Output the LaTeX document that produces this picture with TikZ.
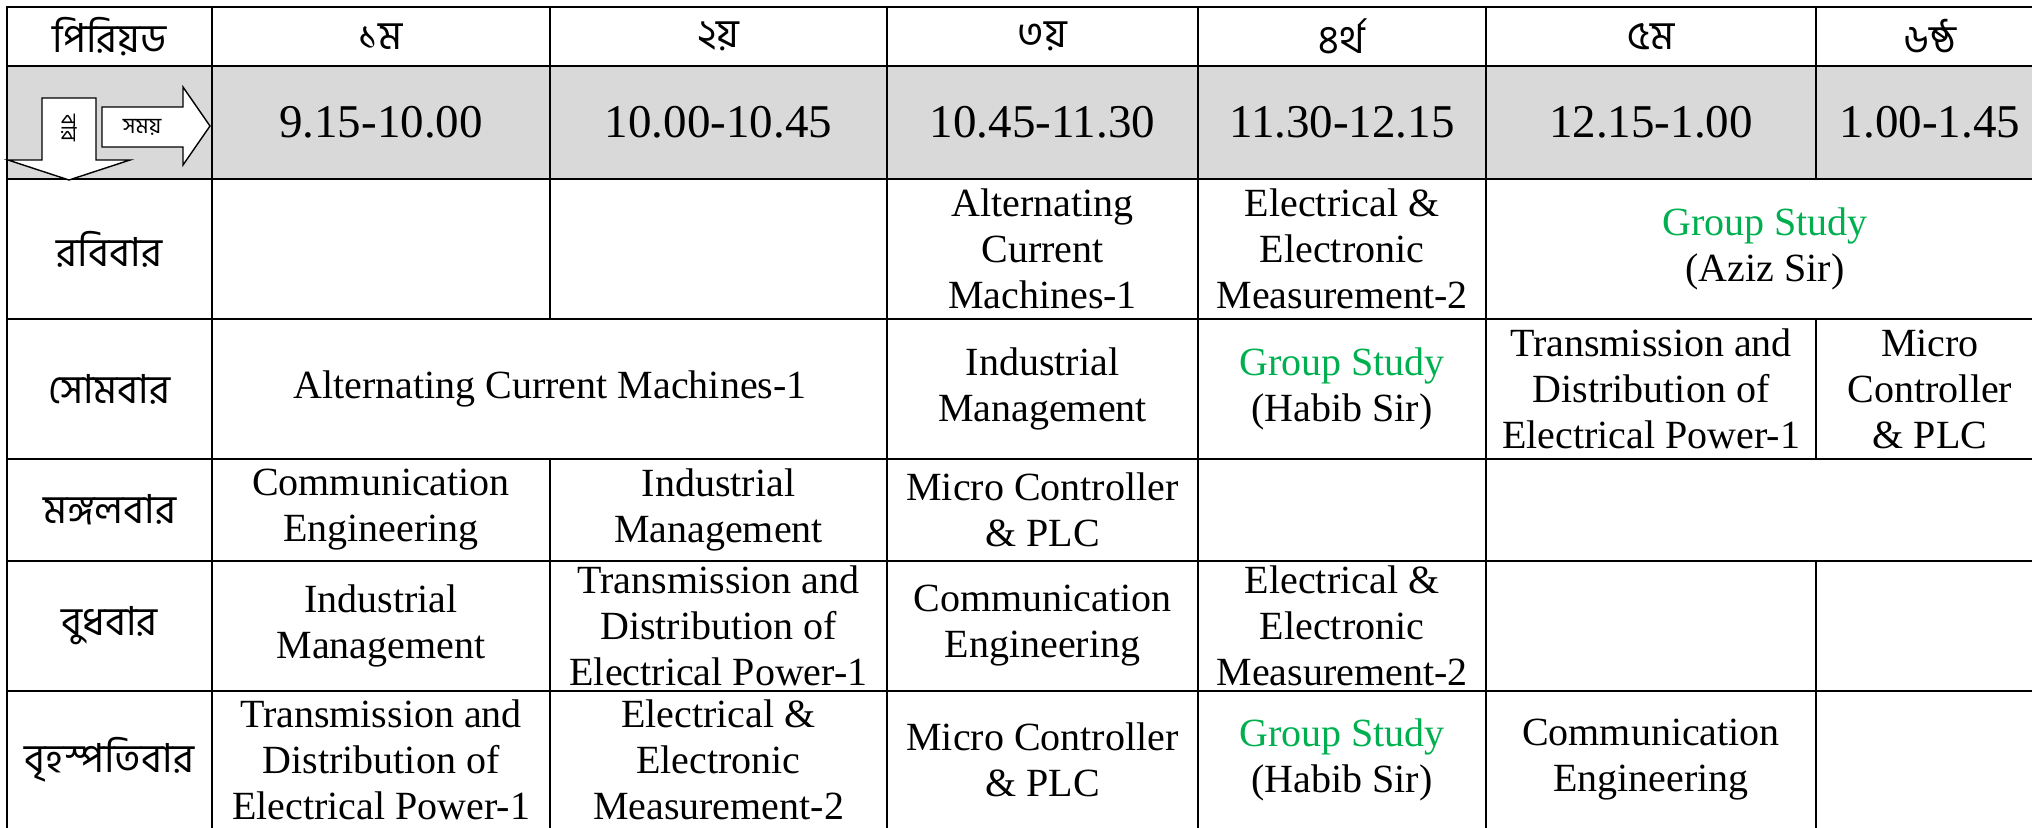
\documentclass[tikz,border=0pt]{standalone}
\usepackage{fontspec}
\setmainfont{Liberation Serif}
\newfontfamily\bnfont[Script=Bengali]{Hind Siliguri}
\definecolor{gsgreen}{RGB}{0,176,80}
\begin{document}
\begin{tikzpicture}[x=0.5pt,y=-0.5pt,
  cell/.style={align=center,inner sep=0pt,font=\fontsize{20}{23}\selectfont},
  timecell/.style={inner sep=0pt,font=\fontsize{23.5}{26}\selectfont},
  bncell/.style={inner sep=0pt,font=\bnfont\fontsize{20}{24}\selectfont},
  grid/.style={line width=1.45pt,line cap=rect},
  arrowbox/.style={draw,line width=0.7pt,fill=white,line join=miter}]

\useasboundingbox (0,0) rectangle (2032,827);
\clip (0,0) rectangle (2032,827);

% grey time row
\fill [black!15] (7,66) rectangle (2044,179) ;

% horizontal rules
\foreach \y in {7,66,179,319,459,561,691,829}
  \draw [grid] (7,\y) -- (2044,\y) ;

% vertical rules
\draw [grid] (7,7) -- (7,829) ;
\draw [grid] (212,7) -- (212,829) ;
\draw [grid] (550,7) -- (550,319) ;
\draw [grid] (550,459) -- (550,829) ;
\draw [grid] (887,7) -- (887,829) ;
\draw [grid] (1198,7) -- (1198,829) ;
\draw [grid] (1486,7) -- (1486,829) ;
\draw [grid] (1816,7) -- (1816,179) ;
\draw [grid] (1816,319) -- (1816,459) ;
\draw [grid] (1816,561) -- (1816,829) ;
\draw [grid] (2044,7) -- (2044,829) ;

% arrows in the corner cell
\draw [arrowbox] (102,107) -- (183,107) -- (183,87) -- (210,126) -- (183,165) -- (183,147) -- (102,147) -- cycle ;
\draw [arrowbox] (42,98) -- (96,98) -- (96,160) -- (130,160) -- (69,180) -- (8,160) -- (42,160) -- cycle ;
\node [inner sep=0pt,font=\bnfont\fontsize{11}{12}\selectfont] (somoy) at (142,127) {সময়};
\node [inner sep=0pt,font=\bnfont\fontsize{10.5}{12}\selectfont,rotate=-90] (bar) at (69,128) {বার};

% header row
\node [bncell] (per) at (109.5,36.5) {পিরিয়ড};
\node [bncell] (h1) at (381,36.5) {১ম};
\node [bncell] (h2) at (718.5,36.5) {২য়};
\node [bncell] (h3) at (1042.5,36.5) {৩য়};
\node [bncell] (h4) at (1342,36.5) {৪র্থ};
\node [bncell] (h5) at (1651,36.5) {৫ম};
\node [bncell] (h6) at (1930,36.5) {৬ষ্ঠ};

% time row
\node [timecell] (t1) at (381,122.5) {9.15-10.00};
\node [timecell] (t2) at (718.5,122.5) {10.00-10.45};
\node [timecell] (t3) at (1042.5,122.5) {10.45-11.30};
\node [timecell] (t4) at (1342,122.5) {11.30-12.15};
\node [timecell] (t5) at (1651,122.5) {12.15-1.00};
\node [timecell] (t6) at (1930,122.5) {1.00-1.45};

% days
\node [bncell] (sun) at (109.5,249) {রবিবার};
\node [bncell] (mon) at (109.5,389) {সোমবার};
\node [bncell] (tue) at (109.5,510) {মঙ্গলবার};
\node [bncell] (wed) at (109.5,626) {বুধবার};
\node [bncell] (thu) at (109.5,760) {বৃহস্পতিবার};

% sunday
\node [cell] (sun3) at (1042.5,249) {Alternating\\Current\\Machines-1};
\node [cell] (sun4) at (1342,249) {Electrical \&\\Electronic\\Measurement-2};
\node [cell] (sun5) at (1765,249) {\textcolor{gsgreen}{Group Study}\\(Aziz Sir)};

% monday
\node [cell] (mon1) at (550,389) {Alternating Current Machines-1};
\node [cell] (mon3) at (1042.5,389) {Industrial\\Management};
\node [cell] (mon4) at (1342,389) {\textcolor{gsgreen}{Group Study}\\(Habib Sir)};
\node [cell] (mon5) at (1651,389) {Transmission and\\Distribution of\\Electrical Power-1};
\node [cell] (mon6) at (1930,389) {Micro\\Controller\\\& PLC};

% tuesday
\node [cell] (tue1) at (381,510) {Communication\\Engineering};
\node [cell] (tue2) at (718.5,510) {Industrial\\Management};
\node [cell] (tue3) at (1042.5,510) {Micro Controller\\\& PLC};

% wednesday
\node [cell] (wed1) at (381,626) {Industrial\\Management};
\node [cell] (wed2) at (718.5,626) {Transmission and\\Distribution of\\Electrical Power-1};
\node [cell] (wed3) at (1042.5,626) {Communication\\Engineering};
\node [cell] (wed4) at (1342,626) {Electrical \&\\Electronic\\Measurement-2};

% thursday
\node [cell] (thu1) at (381,760) {Transmission and\\Distribution of\\Electrical Power-1};
\node [cell] (thu2) at (718.5,760) {Electrical \&\\Electronic\\Measurement-2};
\node [cell] (thu3) at (1042.5,760) {Micro Controller\\\& PLC};
\node [cell] (thu4) at (1342,760) {\textcolor{gsgreen}{Group Study}\\(Habib Sir)};
\node [cell] (thu5) at (1651,760) {Communication\\Engineering};

\end{tikzpicture}
\end{document}
